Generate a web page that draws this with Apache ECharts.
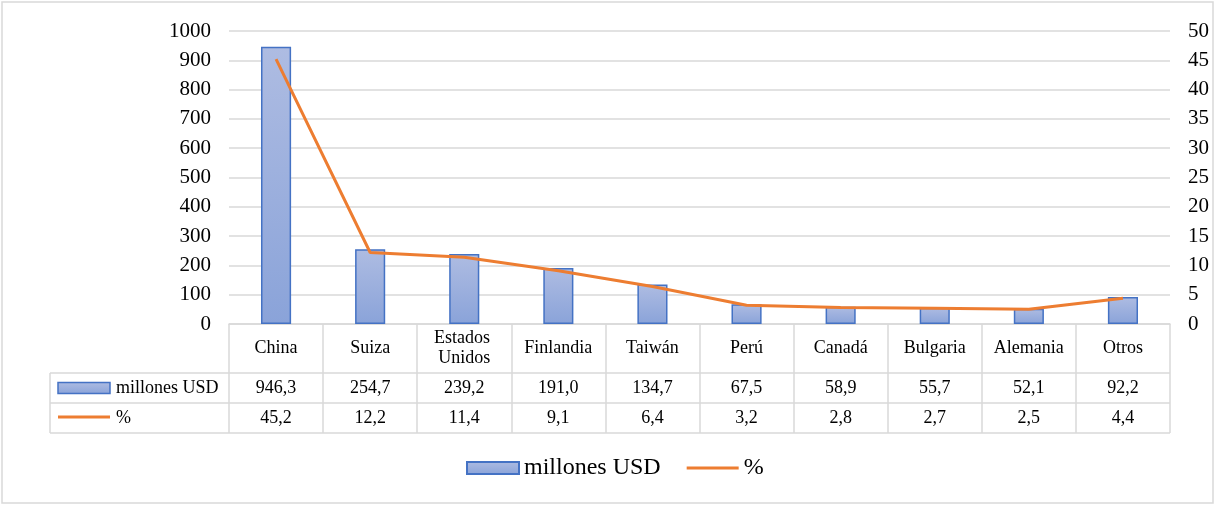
<!DOCTYPE html>
<html>
<head>
<meta charset="utf-8">
<script src="https://cdn.jsdelivr.net/npm/echarts@6/dist/echarts.min.js"></script>
<style>
html,body{margin:0;padding:0;background:#fff;}
#c{width:1215px;height:505px;}
</style>
</head>
<body>
<div id="c"></div>
<script>
var categories = ['China','Suiza','Estados Unidos','Finlandia','Taiwán','Perú','Canadá','Bulgaria','Alemania','Otros'];
var millonesUSD = [946.3,254.7,239.2,191.0,134.7,67.5,58.9,55.7,52.1,92.2];
var porcentaje = [45.2,12.2,11.4,9.1,6.4,3.2,2.8,2.7,2.5,4.4];
var leftTicks = [0,100,200,300,400,500,600,700,800,900,1000];
var rightTicks = [0,5,10,15,20,25,30,35,40,45,50];

var FONT = 'Liberation Serif, "Times New Roman", serif';
var GRID = {left:229, right:45, top:31, bottom:181};
var W = 1215, H = 505;
var axisY = H - GRID.bottom;          // 324
var rowH1 = 49, rowH = 30;
var tableLeft = 50;
var gridRight = W - GRID.right;
var fmt = function(v){ return v.toFixed(1).replace('.', ','); };

var barFill = new echarts.graphic.LinearGradient(0,0,0,1,[
  {offset:0,color:'#aebce2'},{offset:1,color:'#8aa3d9'}]);

var chart = echarts.init(document.getElementById('c'));
var lineColor = '#d9d9d9';
var r1 = axisY + rowH1, r2 = r1 + rowH, r3 = r2 + rowH;

chart.setOption({
  animation:false,
  textStyle:{fontFamily:FONT},
  grid:GRID,
  legend:{
    bottom:20, left:461,
    itemWidth:52, itemHeight:12, itemGap:26,
    textStyle:{fontFamily:FONT,fontSize:24,color:'#000'},
    data:[{name:'millones USD',icon:'rect'},{name:'%',icon:'path://M0,0H52V3H0Z'}]
  },
  xAxis:[{
    type:'category', data:categories, position:'bottom',
    axisLine:{show:true,lineStyle:{color:lineColor,width:1.5}},
    axisTick:{show:true,interval:0,length:rowH1+2*rowH,lineStyle:{color:lineColor,width:1.5}},
    axisLabel:{interval:0,margin:rowH1/2,verticalAlign:'middle',fontFamily:FONT,fontSize:18,color:'#000',
      width:86,overflow:'break',lineHeight:20},
    splitLine:{show:false}
  },{
    type:'category', data:categories, position:'bottom', gridIndex:0,
    axisLine:{show:false}, axisTick:{show:false}, splitLine:{show:false},
    axisLabel:{interval:0,margin:rowH1+rowH/2,verticalAlign:'middle',fontFamily:FONT,fontSize:18,color:'#000',
      formatter:function(v,i){return fmt(millonesUSD[i]);}}
  },{
    type:'category', data:categories, position:'bottom', gridIndex:0,
    axisLine:{show:false}, axisTick:{show:false}, splitLine:{show:false},
    axisLabel:{interval:0,margin:rowH1+rowH*1.5,verticalAlign:'middle',fontFamily:FONT,fontSize:18,color:'#000',
      formatter:function(v,i){return fmt(porcentaje[i]);}}
  }],
  yAxis:[{
    type:'value', min:leftTicks[0], max:leftTicks[leftTicks.length-1], interval:leftTicks[1]-leftTicks[0],
    axisLine:{show:false}, axisTick:{show:false},
    axisLabel:{margin:18,fontFamily:FONT,fontSize:21,color:'#000',formatter:function(v){return String(v);}},
    splitLine:{show:true,lineStyle:{color:lineColor,width:1.5}}
  },{
    type:'value', min:rightTicks[0], max:rightTicks[rightTicks.length-1], interval:rightTicks[1]-rightTicks[0],
    position:'right',
    axisLine:{show:false}, axisTick:{show:false},
    axisLabel:{margin:18,fontFamily:FONT,fontSize:21,color:'#000',formatter:function(v){return String(v);}},
    splitLine:{show:false}
  }],
  series:[{
    name:'millones USD', type:'bar', data:millonesUSD, barWidth:'32%',
    itemStyle:{color:barFill,borderColor:'#4472c4',borderWidth:1.5}
  },{
    name:'%', type:'line', yAxisIndex:1, data:porcentaje, symbol:'none',
    lineStyle:{color:'#ed7d31',width:3}, itemStyle:{color:'#ed7d31'}, z:5
  }],
  graphic:[
    {type:'rect',shape:{x:2,y:2,width:W-4,height:H-4},style:{fill:'none',stroke:lineColor,lineWidth:1.5},silent:true},
    {type:'line',shape:{x1:tableLeft,y1:r1,x2:gridRight,y2:r1},style:{stroke:lineColor,lineWidth:1.5}},
    {type:'line',shape:{x1:tableLeft,y1:r2,x2:gridRight,y2:r2},style:{stroke:lineColor,lineWidth:1.5}},
    {type:'line',shape:{x1:tableLeft,y1:r3,x2:gridRight,y2:r3},style:{stroke:lineColor,lineWidth:1.5}},
    {type:'line',shape:{x1:tableLeft,y1:r1,x2:tableLeft,y2:r3},style:{stroke:lineColor,lineWidth:1.5}},
    {type:'rect',shape:{x:58,y:r1+rowH/2-5.5,width:52,height:11},style:{fill:barFill,stroke:'#4472c4',lineWidth:1.5}},
    {type:'text',x:116,y:r1+rowH/2,style:{text:'millones USD',fontFamily:FONT,fontSize:18,fill:'#000',verticalAlign:'middle'}},
    {type:'line',shape:{x1:58,y1:r2+rowH/2-1,x2:110,y2:r2+rowH/2-1},style:{stroke:'#ed7d31',lineWidth:3}},
    {type:'text',x:116,y:r2+rowH/2,style:{text:'%',fontFamily:FONT,fontSize:18,fill:'#000',verticalAlign:'middle'}}
  ]
});
</script>
</body>
</html>
